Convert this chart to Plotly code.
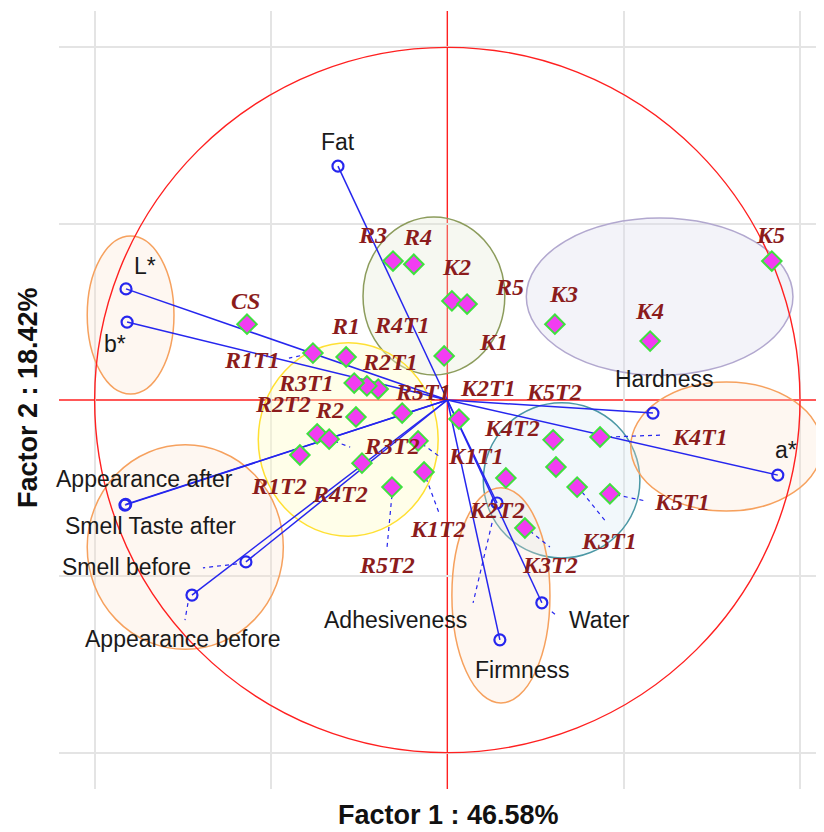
import plotly.graph_objects as go

# ---------------- data ----------------
obs_names = ["CS", "R3", "R4", "K2", "R5", "K1", "K3", "K4", "K5",
             "R1", "R4T1", "R2T1", "R1T1", "R3T1", "R2T2", "R2", "R5T1",
             "K2T1", "R3T2", "K1T1", "R1T2", "R4T2", "K1T2", "R5T2",
             "K5T2", "K4T2", "K2T2", "K4T1", "K3T1", "K5T1", "K3T2"]
obs_x = [-0.568, -0.154, -0.095, 0.013, 0.056, -0.009, 0.305, 0.575, 0.920,
         -0.287, -0.196, -0.228, -0.381, -0.264, -0.369, -0.259, -0.128,
         0.033, -0.335, -0.083, -0.418, -0.242, -0.066, -0.157,
         0.300, 0.308, 0.166, 0.433, 0.368, 0.461, 0.220]
obs_y = [0.215, 0.394, 0.385, 0.281, 0.272, 0.125, 0.215, 0.167, 0.394,
         0.122, 0.031, 0.040, 0.133, 0.048, -0.096, -0.048, -0.037,
         -0.054, -0.111, -0.116, -0.156, -0.179, -0.204, -0.247,
         -0.113, -0.190, -0.221, -0.105, -0.247, -0.266, -0.363]

var_names = ["Fat", "L*", "b*", "Hardness", "a*", "Appearance after",
             "Smell Taste after", "Smell before", "Appearance before",
             "Adhesiveness", "Firmness", "Water"]
var_x = [-0.310, -0.911, -0.908, 0.583, 0.937, -0.914,
         -0.912, -0.571, -0.724, 0.141, 0.149, 0.268]
var_y = [0.663, 0.315, 0.221, -0.037, -0.213, -0.298,
         -0.296, -0.459, -0.553, -0.292, -0.680, -0.575]

x_title = "Factor 1 : 46.58%"
y_title = "Factor 2 : 18.42%"

# ---------------- styling / placement ----------------
BODY = 8                      # default page margin of the html body
W, H = 824 - BODY, 832 - BODY
ML, MR, MT, MB = 59 - BODY, 0, 11 - BODY, 43
XR = [-1.101, 1.068]
YR = [-1.103, 1.103]
PW, PH = W - ML - MR, H - MT - MB
DX = (XR[1] - XR[0]) / PW   # data units per pixel
DY = (YR[1] - YR[0]) / PH

# label offsets in pixels (dx right, dy down)
obs_label_off = {
    "CS": (-1, -23), "R3": (-21, -26), "R4": (4, -27), "K2": (5, -34),
    "R5": (42, -17), "K1": (49, -14), "K3": (9, -30), "K4": (-1, -30),
    "K5": (-1, -26), "R1": (-1, -31), "R4T1": (24, -64), "R2T1": (23, -24),
    "R1T1": (-61, 7), "R3T1": (-48, 0), "R2T2": (-34, -30), "R2": (-26, -7),
    "R5T1": (21, -21), "K2T1": (29, -31), "R3T2": (63, 7), "K1T1": (58, 15),
    "R1T2": (-21, 31), "R4T2": (-22, 31), "K1T2": (14, 57), "R5T2": (-5, 78),
    "K5T2": (1, -48), "K4T2": (-44, -39), "K2T2": (-9, 32), "K4T1": (100, 0),
    "K3T1": (32, 54), "K5T1": (72, 8), "K3T2": (25, 37),
}
obs_leaders = {  # (start offset, end offset) in px
    "R1T1": ((-5, 1), (-24, 5)), "R3T2": ((5, 2), (21, 8)),
    "K1T1": ((4, 3), (22, 16)), "K1T2": ((2, 6), (15, 41)),
    "R5T2": ((0, 8), (-5, 61)), "K4T1": ((8, 0), (63, -2)),
    "K3T1": ((5, 5), (30, 36)), "K5T1": ((6, 1), (35, 7)),
    "K3T2": ((5, 3), (25, 19)), "R3T1": ((-4, 0), (-9, 0)),
}
var_label_off = {
    "Fat": (0, -24), "L*": (19, -23), "b*": (-12, 22), "Hardness": (11, -34),
    "a*": (8, -25), "Appearance after": (20, -26), "Smell Taste after": (25, 22),
    "Smell before": (-119, 5), "Appearance before": (-9, 44),
    "Adhesiveness": (-102, 117), "Firmness": (23, 30), "Water": (58, 17),
}
var_leaders = {
    "Smell before": ((-9, 2), (-43, 6)),
    "Appearance before": ((-4, 8), (-7, 25)),
    "Adhesiveness": ((-5, 20), (-24, 100)),
    "Water": ((10, 9), (15, 13)),
}

# group ellipses: (cx, cy, rx, ry, line colour, fill colour)
groups = [
    (-0.898, 0.241, 0.123, 0.224, "#f6a15e", "rgba(250,225,205,0.28)"),
    (-0.038, 0.295, 0.201, 0.224, "#8c9c5c", "rgba(225,232,210,0.30)"),
    (0.602, 0.293, 0.378, 0.223, "#b2a8cf", "rgba(222,220,238,0.35)"),
    (-0.281, -0.112, 0.255, 0.274, "#ffe033", "rgba(255,252,200,0.40)"),
    (0.324, -0.228, 0.222, 0.220, "#4b98a5", "rgba(218,234,244,0.35)"),
    (0.791, -0.132, 0.271, 0.183, "#f6a15e", "rgba(250,225,205,0.28)"),
    (-0.743, -0.417, 0.278, 0.290, "#f6a15e", "rgba(250,225,205,0.28)"),
    (0.152, -0.554, 0.139, 0.305, "#f6a15e", "rgba(250,225,205,0.28)"),
]

BLUE = "#2626ee"
RED = "#ff2020"
LABEL_RED = "#8b1c1c"

fig = go.Figure()

shapes = []
for cx, cy, rx, ry, lc, fc in groups:
    shapes.append(dict(type="circle", xref="x", yref="y",
                       x0=cx - rx, x1=cx + rx, y0=cy - ry, y1=cy + ry,
                       line=dict(color=lc, width=1.5), fillcolor=fc,
                       layer="between"))
# unit circle and axes
shapes.append(dict(type="circle", xref="x", yref="y", x0=-1, x1=1, y0=-1, y1=1,
                   line=dict(color=RED, width=1.4), layer="between"))
shapes.append(dict(type="line", xref="x", yref="paper", x0=0, x1=0, y0=0, y1=1,
                   line=dict(color=RED, width=1.4), layer="between"))
shapes.append(dict(type="line", xref="paper", yref="y", x0=0, x1=1, y0=0, y1=0,
                   line=dict(color=RED, width=1.4), layer="between"))

# vector lines
lx, ly = [], []
for x, y in zip(var_x, var_y):
    lx += [0, x, None]
    ly += [0, y, None]
fig.add_trace(go.Scatter(x=lx, y=ly, mode="lines",
                         line=dict(color=BLUE, width=1.5), hoverinfo="skip"))

# leader lines (dashed)
dx_, dy_ = [], []
for name, (s, e) in obs_leaders.items():
    i = obs_names.index(name)
    px, py = obs_x[i], obs_y[i]
    dx_ += [px + s[0] * DX, px + e[0] * DX, None]
    dy_ += [py - s[1] * DY, py - e[1] * DY, None]
for name, (s, e) in var_leaders.items():
    i = var_names.index(name)
    px, py = var_x[i], var_y[i]
    dx_ += [px + s[0] * DX, px + e[0] * DX, None]
    dy_ += [py - s[1] * DY, py - e[1] * DY, None]
fig.add_trace(go.Scatter(x=dx_, y=dy_, mode="lines",
                         line=dict(color=BLUE, width=1.2, dash="4px,4px"),
                         hoverinfo="skip"))

# variable endpoints
fig.add_trace(go.Scatter(x=var_x, y=var_y, mode="markers",
                         marker=dict(symbol="circle-open", size=11,
                                     color=BLUE, line=dict(width=2.2, color=BLUE))))

# observations
fig.add_trace(go.Scatter(x=obs_x, y=obs_y, mode="markers",
                         marker=dict(symbol="diamond", size=15, color="#f23cf2",
                                     line=dict(color="#3fe03f", width=2))))

annotations = []
for n, x, y in zip(obs_names, obs_x, obs_y):
    ox, oy = obs_label_off[n]
    annotations.append(dict(x=x, y=y, xref="x", yref="y", text=n, showarrow=False,
                            xshift=ox, yshift=-oy, xanchor="center", yanchor="middle",
                            font=dict(family="Liberation Serif", size=24,
                                      color=LABEL_RED, weight="bold", style="italic")))
for n, x, y in zip(var_names, var_x, var_y):
    ox, oy = var_label_off[n]
    annotations.append(dict(x=x, y=y, xref="x", yref="y", text=n, showarrow=False,
                            xshift=ox, yshift=-oy, xanchor="center", yanchor="middle",
                            font=dict(family="Liberation Sans", size=23, color="#1a1a1a")))

def page_to_paper(px, py):
    return (px - BODY - ML) / PW, (MT + PH - (py - BODY)) / PH

tx, ty = page_to_paper(448, 815)
annotations.append(dict(x=tx, y=ty, xref="paper", yref="paper",
                        text=x_title, showarrow=False, xanchor="center", yanchor="middle",
                        font=dict(family="Liberation Sans", size=27, color="#111", weight="bold")))
tx, ty = page_to_paper(28, 398)
annotations.append(dict(x=tx, y=ty, xref="paper", yref="paper",
                        text=y_title, showarrow=False, xanchor="center", yanchor="middle",
                        textangle=-90,
                        font=dict(family="Liberation Sans", size=27, color="#111", weight="bold")))

fig.update_layout(
    width=W, height=H,
    margin=dict(l=ML, r=MR, t=MT, b=MB),
    paper_bgcolor="white", plot_bgcolor="white",
    showlegend=False,
    shapes=shapes, annotations=annotations,
    xaxis=dict(range=XR, tickvals=[-1, -0.5, 0.5, 1], showticklabels=False,
               showgrid=True, gridcolor="#e4e4e4", gridwidth=1.5, zeroline=False,
               showline=False, ticks=""),
    yaxis=dict(range=YR, tickvals=[-1, -0.5, 0.5, 1], showticklabels=False,
               showgrid=True, gridcolor="#e4e4e4", gridwidth=1.5, zeroline=False,
               showline=False, ticks=""),
)

fig.write_html("out.html")
